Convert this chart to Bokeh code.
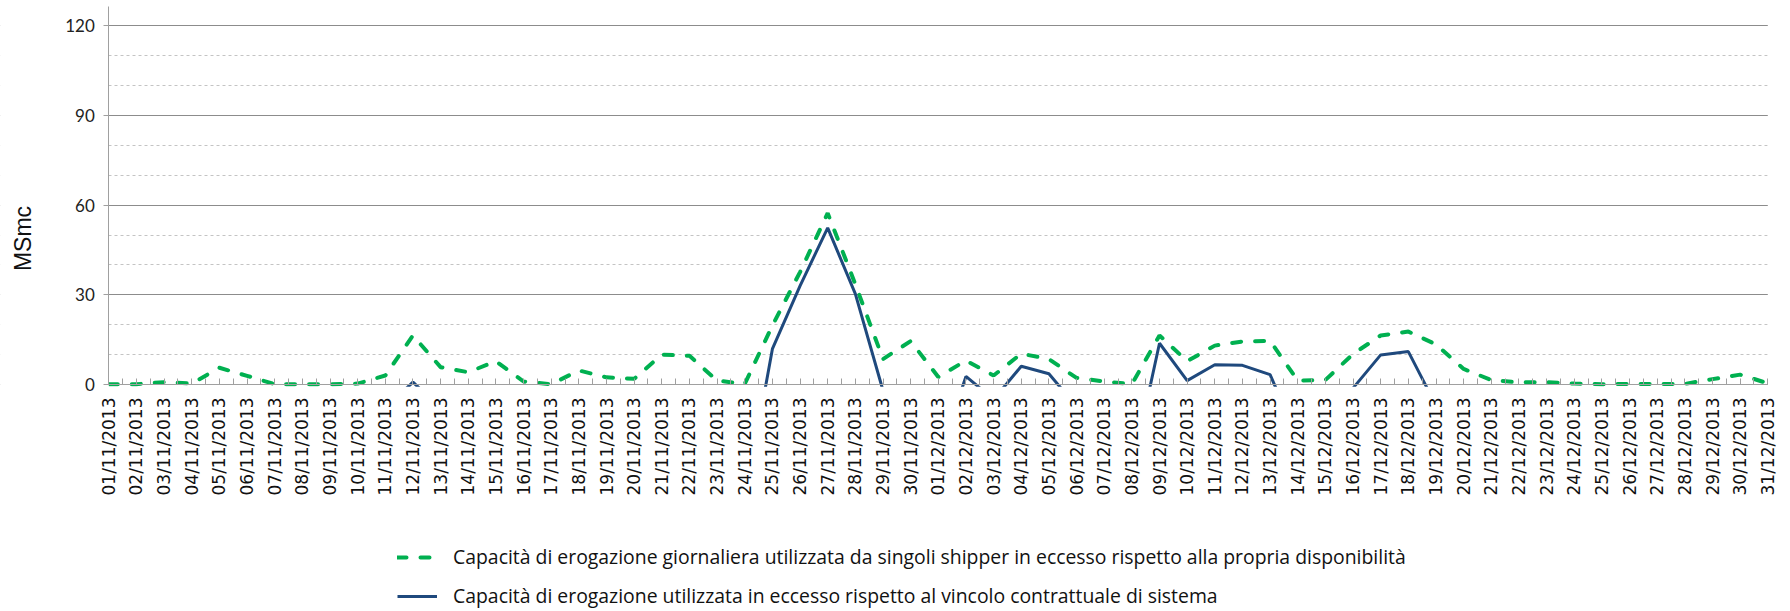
from math import pi
from bokeh.plotting import figure
from bokeh.models import Range1d, FixedTicker, Legend, LegendItem, BoxAnnotation, Label
from bokeh.embed import file_html
from bokeh.resources import INLINE

nan = float("nan")

dates = [
    "01/11/2013", "02/11/2013", "03/11/2013", "04/11/2013", "05/11/2013", "06/11/2013",
    "07/11/2013", "08/11/2013", "09/11/2013", "10/11/2013", "11/11/2013", "12/11/2013",
    "13/11/2013", "14/11/2013", "15/11/2013", "16/11/2013", "17/11/2013", "18/11/2013",
    "19/11/2013", "20/11/2013", "21/11/2013", "22/11/2013", "23/11/2013", "24/11/2013",
    "25/11/2013", "26/11/2013", "27/11/2013", "28/11/2013", "29/11/2013", "30/11/2013",
    "01/12/2013", "02/12/2013", "03/12/2013", "04/12/2013", "05/12/2013", "06/12/2013",
    "07/12/2013", "08/12/2013", "09/12/2013", "10/12/2013", "11/12/2013", "12/12/2013",
    "13/12/2013", "14/12/2013", "15/12/2013", "16/12/2013", "17/12/2013", "18/12/2013",
    "19/12/2013", "20/12/2013", "21/12/2013", "22/12/2013", "23/12/2013", "24/12/2013",
    "25/12/2013", "26/12/2013", "27/12/2013", "28/12/2013", "29/12/2013", "30/12/2013",
    "31/12/2013",
]

# Capacità di erogazione giornaliera utilizzata da singoli shipper (MSmc)
shipper_excess = [
    0.1, 0.1, 0.8, 0.3, 5.6, 2.9, 0.1, 0.1, 0.1, 0.3,
    3.0, 16.4, 5.8, 4.1, 7.8, 1.0, 0.1, 4.7, 2.4, 1.9,
    10.0, 9.6, 1.3, 0.2, 19.7, 37.6, 57.3, 33.5, 8.5, 14.5,
    2.5, 8.0, 3.0, 10.3, 8.5, 2.2, 1.0, 0.1, 16.4, 7.8,
    13.0, 14.4, 14.6, 1.3, 1.5, 10.2, 16.4, 17.7, 13.4, 5.2,
    1.5, 0.7, 0.8, 0.3, 0.1, 0.2, 0.2, 0.2, 1.8, 3.3,
    0.4,
]

# Capacità di erogazione utilizzata in eccesso rispetto al vincolo di sistema (MSmc)
system_excess = [
    nan, nan, nan, nan, nan, nan, nan, nan, nan, nan,
    -8.0, 0.8, -8.0, nan, nan, nan, nan, nan, nan, nan,
    nan, nan, nan, -39.0, 11.9, 33.0, 52.4, 30.3, -2.0, nan,
    -25.0, 2.7, -5.0, 6.1, 3.6, -7.4, nan, -28.7, 13.8, 1.3,
    6.6, 6.4, 3.3, -18.0, nan, -1.2, 9.9, 11.0, -7.0, nan,
    nan, nan, nan, nan, nan, nan, nan, nan, nan, nan,
    nan,
]

y_major = [0, 30, 60, 90, 120]
y_minor = [10, 20, 40, 50, 70, 80, 100, 110]

y_title = "MSmc"
legend_labels = [
    "Capacità di erogazione giornaliera utilizzata da singoli shipper in eccesso rispetto alla propria disponibilità",
    "Capacità di erogazione utilizzata in eccesso rispetto al vincolo contrattuale di sistema",
]

x = list(range(len(dates)))
n_last = len(dates) - 1

# canvas geometry (pixels)
W, H = 1790, 611
left_px, right_px = 108.3, 1767.3   # where the first / last day sit
zero_px = 384                        # distance from top to the zero line
ppu = (zero_px - 25.2) / 120         # pixels per MSmc
axis_top = (zero_px - 6) / ppu       # value-axis line stops just above 120

ppx = (right_px - left_px) / n_last
x_start = -left_px / ppx
x_end = n_last + (W - right_px) / ppx
y_top = zero_px / ppu
y_bottom = -(H - zero_px) / ppu

p = figure(width=W, height=H, output_backend="svg", toolbar_location=None,
           x_range=Range1d(x_start, x_end), y_range=Range1d(y_bottom, y_top),
           min_border_left=0, min_border_right=0, min_border_top=0,
           min_border_bottom=0)
p.outline_line_color = None
p.background_fill_color = "white"
p.border_fill_color = "white"

# y axis at the first day
yt = FixedTicker(ticks=y_major, minor_ticks=y_minor)
p.yaxis.fixed_location = 0
p.yaxis.ticker = yt
p.ygrid.ticker = yt
p.yaxis.bounds = (0, axis_top)
p.yaxis.axis_line_color = "#a0a0a0"
p.yaxis.major_tick_line_color = "#a0a0a0"
p.yaxis.major_tick_in = 0
p.yaxis.major_tick_out = 5
p.yaxis.minor_tick_line_color = None
p.yaxis.major_label_standoff = 9
p.yaxis.major_label_text_font = "Lato"
p.yaxis.major_label_text_font_size = "17px"
p.yaxis.major_label_text_color = "#222222"

p.ygrid.grid_line_color = "#8c8c8c"
p.ygrid.grid_line_width = 1
p.ygrid.minor_grid_line_color = "#c4c4c4"
p.ygrid.minor_grid_line_dash = "3 3"
p.xgrid.visible = False

# x axis at the zero line
xt = FixedTicker(ticks=x, minor_ticks=[i + 0.5 for i in x[:-1]])
p.xaxis.fixed_location = 0
p.xaxis.bounds = (0, n_last)
p.xaxis.ticker = xt
p.xaxis.major_label_overrides = {i: d for i, d in zip(x, dates)}
p.xaxis.major_label_orientation = pi / 2
p.xaxis.major_label_standoff = 13
p.xaxis.major_label_text_font = "DejaVu Sans"
p.xaxis.major_label_text_font_size = "17px"
p.xaxis.major_label_text_color = "#111111"
p.xaxis.axis_line_color = "#a0a0a0"
p.xaxis.major_tick_line_color = "#a0a0a0"
p.xaxis.minor_tick_line_color = "#a0a0a0"
p.xaxis.major_tick_in = 6
p.xaxis.major_tick_out = 0
p.xaxis.minor_tick_in = 6
p.xaxis.minor_tick_out = 0

green = p.line(x, shipper_excess, line_color="#00b050", line_width=4,
               line_dash="9 14", line_cap="round")
blue = p.line(x, system_excess, line_color="#1f497d", line_width=3)

# white masks: nothing is drawn below 0 or outside the first/last day
masks = (
    BoxAnnotation(top=-0.75, bottom=y_bottom - 5, left=x_start - 1, right=x_end + 1),
    BoxAnnotation(right=0, left=x_start - 1, top=y_top + 5, bottom=y_bottom - 5),
    BoxAnnotation(left=n_last, right=x_end + 1, top=y_top + 5, bottom=y_bottom - 5),
)
for box in masks:
    box.fill_color = "white"
    box.fill_alpha = 1.0
    box.line_color = None
    box.level = "glyph"
    p.add_layout(box)

p.add_layout(Label(x=x_start + 22.5 / ppx, y=(zero_px - 238) / ppu, text=y_title,
                   angle=pi / 2, text_align="center", text_baseline="middle",
                   text_font="Liberation Sans", text_font_size="23px",
                   text_color="#111111"))

legend = Legend(items=[LegendItem(label=legend_labels[0], renderers=[green]),
                       LegendItem(label=legend_labels[1], renderers=[blue])],
                location=(397, 2), orientation="vertical",
                padding=0, margin=0, spacing=12,
                label_height=20, glyph_height=20, glyph_width=40,
                label_standoff=16,
                label_text_font="Open Sans", label_text_font_size="19.4px",
                label_text_color="#111111",
                border_line_color=None, background_fill_alpha=0)
p.add_layout(legend)

open("out.html", "w").write(file_html(p, INLINE))
